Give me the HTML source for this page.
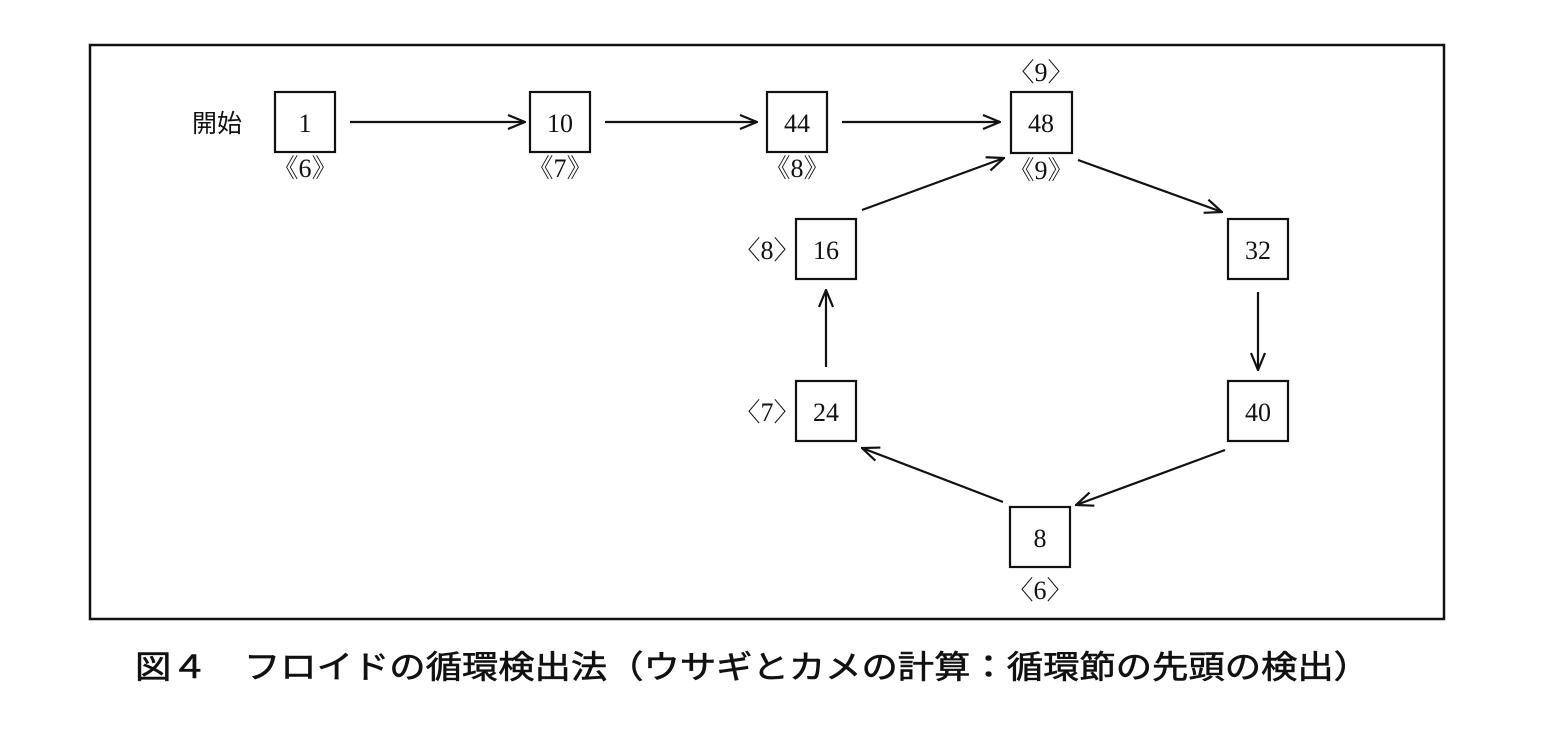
<!DOCTYPE html>
<html><head><meta charset="utf-8"><style>
html,body{margin:0;padding:0;background:#fff;}
svg{display:block;}
text{font-family:"Liberation Serif","Noto Serif CJK SC",serif;fill:#111;}
.c{font-family:"Liberation Sans","Noto Sans CJK JP",sans-serif;}
</style></head><body>
<svg width="1560" height="748" viewBox="0 0 1560 748" xmlns="http://www.w3.org/2000/svg">
<defs>
<marker id="a" markerWidth="20" markerHeight="16" refX="19" refY="8" orient="auto" markerUnits="userSpaceOnUse">
<path d="M2,1 L19,8 L2,15" fill="none" stroke="#111" stroke-width="2.2"/>
</marker>
</defs>
<rect x="90" y="45" width="1354" height="574" fill="none" stroke="#111" stroke-width="2.5"/>
<g fill="none" stroke="#111" stroke-width="2.2">
<rect x="275" y="92" width="60" height="60"/>
<rect x="530" y="92" width="60" height="60"/>
<rect x="767" y="92" width="60" height="60"/>
<rect x="1011" y="92" width="61" height="61"/>
<rect x="1228" y="219" width="60" height="60"/>
<rect x="1228" y="381" width="60" height="60"/>
<rect x="1010" y="507" width="60" height="60"/>
<rect x="796" y="381" width="60" height="60"/>
<rect x="796" y="219" width="60" height="60"/>
</g>
<g stroke="#111" stroke-width="2.2" marker-end="url(#a)">
<line x1="350" y1="122" x2="525" y2="122"/>
<line x1="605" y1="122" x2="757" y2="122"/>
<line x1="842" y1="122" x2="1000" y2="122"/>
<line x1="1078" y1="160" x2="1222" y2="212"/>
<line x1="1258" y1="292" x2="1258" y2="370"/>
<line x1="1225" y1="450" x2="1076" y2="505"/>
<line x1="1003" y1="502" x2="862" y2="448"/>
<line x1="826" y1="367" x2="826" y2="290"/>
<line x1="862" y1="210" x2="1004" y2="158"/>
</g>
<g font-size="26" text-anchor="middle">
<text x="305" y="132">1</text>
<text x="560" y="132">10</text>
<text x="797" y="132">44</text>
<text x="1041" y="132">48</text>
<text x="1258" y="259">32</text>
<text x="1258" y="421">40</text>
<text x="1040" y="547">8</text>
<text x="826" y="421">24</text>
<text x="826" y="259">16</text>
<text x="305" y="177">《6》</text>
<text x="560" y="177">《7》</text>
<text x="797" y="177">《8》</text>
<text x="1041" y="179">《9》</text>
<text x="1041" y="81">〈9〉</text>
<text x="767" y="259">〈8〉</text>
<text x="767" y="421">〈7〉</text>
<text x="1040" y="599">〈6〉</text>
</g>
<text class="c" x="192" y="132" font-size="25">開始</text>
<text class="c" x="135" y="678" font-size="32" textLength="1235" lengthAdjust="spacingAndGlyphs" stroke="#111" stroke-width="0.6">図４　フロイドの循環検出法（ウサギとカメの計算：循環節の先頭の検出）</text>
</svg>
</body></html>
